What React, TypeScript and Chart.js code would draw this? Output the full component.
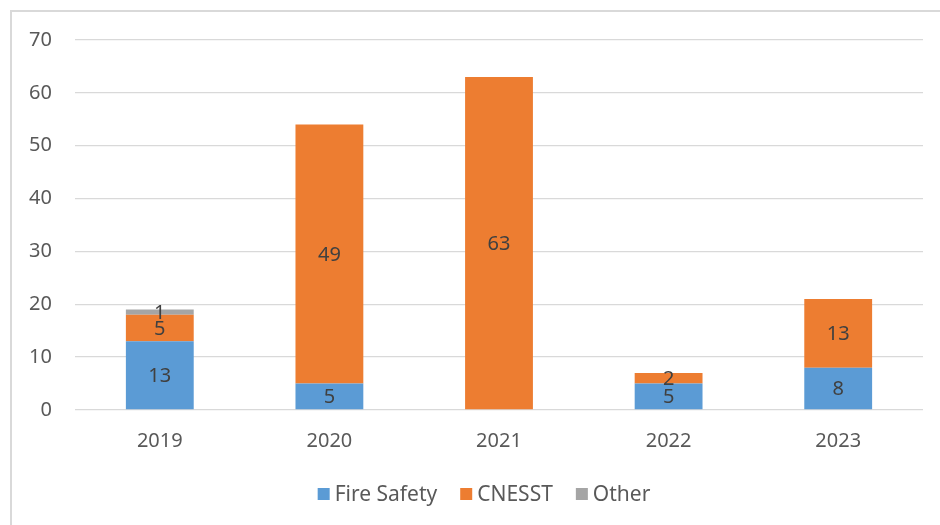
import React, { useEffect, useRef } from "react";
import { Chart, registerables } from "chart.js";

Chart.register(...registerables);

const years = ["2019", "2020", "2021", "2022", "2023"];
const fireSafety = [13, 5, 0, 5, 8];
const cnesst = [5, 49, 63, 2, 13];
const other = [1, 0, 0, 0, 0];
const yTicks = [0, 10, 20, 30, 40, 50, 60, 70];

const FONT = "'Noto Sans', 'Open Sans', sans-serif";

const dataLabels = {
  id: "dataLabels",
  afterDatasetsDraw(chart: any) {
    const ctx = chart.ctx;
    ctx.save();
    ctx.font = `20px ${FONT}`;
    ctx.fillStyle = "#404040";
    ctx.textAlign = "center";
    ctx.textBaseline = "middle";
    chart.data.datasets.forEach((ds: any, i: number) => {
      const meta = chart.getDatasetMeta(i);
      if (meta.hidden) return;
      meta.data.forEach((bar: any, j: number) => {
        const v = ds.data[j];
        if (!v) return;
        const y = (bar.y + bar.base) / 2;
        ctx.fillText(String(v), bar.x, y + 1);
      });
    });
    ctx.restore();
  },
};

const customLegend = {
  id: "customLegend",
  afterDraw(chart: any) {
    const ctx = chart.ctx;
    ctx.save();
    ctx.font = `21px ${FONT}`;
    ctx.textBaseline = "middle";
    ctx.textAlign = "left";
    const box = 12;
    const gapBoxText = 5;
    const gapItems = 23;
    const items = chart.data.datasets.map((ds: any) => ({
      label: ds.label,
      color: ds.backgroundColor,
      w: ctx.measureText(ds.label).width,
    }));
    const total = items.reduce((a: number, it: any) => a + box + gapBoxText + it.w, 0) + gapItems * (items.length - 1);
    const cy = 494;
    let x = 484 - total / 2;
    items.forEach((it: any) => {
      ctx.fillStyle = it.color;
      ctx.fillRect(x, cy - box / 2, box, box);
      x += box + gapBoxText;
      ctx.fillStyle = "#595959";
      ctx.fillText(it.label, x, cy + 1);
      x += it.w + gapItems;
    });
    ctx.restore();
  },
};

export default function App() {
  const ref = useRef<HTMLCanvasElement | null>(null);
  useEffect(() => {
    if (!ref.current) return;
    const chart = new Chart(ref.current, {
      type: "bar",
      data: {
        labels: years,
        datasets: [
          { label: "Fire Safety", data: fireSafety, backgroundColor: "#5B9BD5" },
          { label: "CNESST", data: cnesst, backgroundColor: "#ED7D31" },
          { label: "Other", data: other, backgroundColor: "#A5A5A5" },
        ],
      },
      options: {
        responsive: false,
        animation: false,
        layout: { padding: { left: 0, right: 17, top: 40, bottom: 53 } },
        datasets: { bar: { categoryPercentage: 1, barPercentage: 0.4 } },
        scales: {
          x: {
            stacked: true,
            grid: { display: false },
            border: { display: false },
            ticks: { color: "#595959", font: { family: FONT, size: 20 }, padding: 11 },
            afterFit: (s: any) => { s.height = 62; },
          },
          y: {
            stacked: true,
            min: 0,
            max: 70,
            afterBuildTicks: (s: any) => { s.ticks = yTicks.map((v) => ({ value: v })); },
            grid: { color: "#d9d9d9", lineWidth: 1.3, drawTicks: false },
            border: { display: false },
            ticks: { color: "#595959", font: { family: FONT, size: 20 }, padding: 23 },
            afterFit: (s: any) => { s.width = 75; },
          },
        },
        plugins: {
          legend: { display: false },
          tooltip: { enabled: false },
        },
      },
      plugins: [dataLabels, customLegend],
    });
    return () => chart.destroy();
  }, []);

  return (
    <div style={{ position: "fixed", left: 0, top: 0, width: 940, height: 525, background: "#fff", overflow: "hidden" }}>
      <div style={{ position: "absolute", left: 10, top: 10, width: 1000, height: 600, border: "2px solid #d9d9d9" }} />
      <canvas ref={ref} width={940} height={525} style={{ position: "absolute", left: 0, top: 0 }} />
    </div>
  );
}
